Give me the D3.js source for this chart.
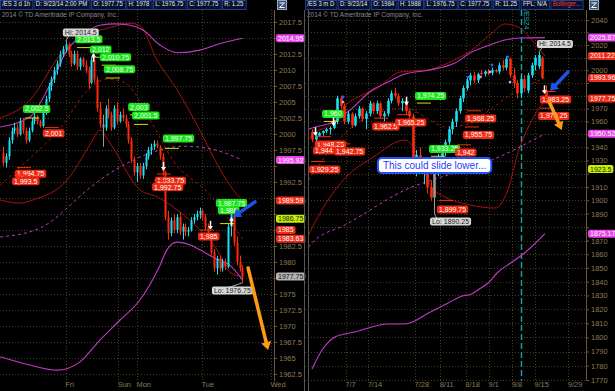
<!DOCTYPE html>
<html>
<head>
<meta charset="utf-8">
<title>/ES two panels</title>
<script src="https://cdnjs.cloudflare.com/ajax/libs/d3/7.8.5/d3.min.js"></script>
<style>
  body{margin:0;background:#000;}
  svg{display:block;font-family:"Liberation Sans",Arial,sans-serif;}
  .grid line{stroke:#4a3d22;stroke-dasharray:1,2;}
  .ax text{fill:#8f7a50;font-size:7.5px;}
  .ax path,.ax line{stroke:#6b5830;}
</style>
</head>
<body>
<div id="chart"></div>
<script>
// ---------- data : left panel (/ES 3 d 1h), candles [open, high, low, close] ----------
var leftCandles = [
  [1997,1998,1995,1995.5],[1995.5,1997,1994.75,1996.5],[1996.5,1999.5,1996,1999],[1999,2001,1998.5,2000.5],
  [2000.5,2001.75,2000,2001],[2001,2001.5,1999.5,2000],[2000,2002.5,1999.75,2002],[2002,2002.5,2000,2000.5],
  [2000.5,2001,1998.5,1999],[1999,2001,1998.75,2000.5],[2000.5,2002.5,2000.25,2002],[2002,2003.25,2001.5,2002.75],
  [2002.75,2003,2001.5,2002],[2002,2002.25,2001,2001.25],[2001.25,2004,2001,2003.5],[2003.5,2006,2003,2005.5],
  [2005.5,2008,2005,2007.5],[2007.5,2009,2006.75,2008.5],[2008.5,2010.5,2008,2010],[2010,2011.5,2009.25,2011],
  [2011,2013,2010.5,2012.5],[2012.5,2013.75,2012,2013.25],[2013.25,2014.5,2012.75,2014],[2014,2014.25,2012,2012.5],
  [2012.5,2013,2010.5,2011],[2011,2013,2010.75,2012.5],[2012.5,2013,2010,2010.5],[2010.5,2012,2010,2011.75],
  [2011.75,2012,2010.5,2010.75],[2010.75,2011.5,2009.5,2010],[2010,2010.5,2007,2008],[2008,2012,2007.75,2011.5],
  [2011.5,2012,2008,2008.5],[2008.5,2009,2003.5,2004],[2004,2005,2001,2001.5],[2001.5,2003,1998,2001],
  [2001,2004.5,2000.5,2004],[2004,2005.5,2002.5,2003],[2003,2003.5,2000.5,2001],[2001,2004.5,2000.75,2004],
  [2004,2005,2001.5,2002],[2002,2003.5,2001.75,2003],[2003,2004,2002,2002.5],[2002.5,2003,2001,2001.5],
  [2001.5,2002,1998.5,1999],[1999,1999.5,1995.5,1996],[1996,1996.5,1993.5,1994],[1994,1995.5,1992.5,1995],
  [1995,1995.5,1993,1993.5],[1993.5,1995.5,1993,1995],[1995,1997,1994.5,1996.5],[1996.5,1998,1996,1997.5],
  [1997.5,1998.5,1996.75,1998],[1998,1999,1997.5,1998.5],[1998.5,1999,1997.75,1998],[1998,1998.25,1996,1996.5],
  [1996.5,1997,1993.5,1994],[1994,1994.25,1986.5,1987],[1987,1988,1983.5,1984.5],[1984.5,1987,1984,1986.5],
  [1986.5,1987.5,1984.5,1985],[1985,1987.5,1984.5,1987],[1987,1987.75,1984.25,1984.75],[1984.75,1986,1983.5,1985.5],
  [1985.5,1986,1984,1984.75],[1984.75,1985.5,1984,1985],[1985,1987,1984.75,1986.5],[1986.5,1987.5,1986,1987],
  [1987,1988,1986.5,1987.5],[1987.5,1988.5,1986.75,1988],[1988,1988.25,1986.5,1987],[1987,1987.5,1985,1985.5],
  [1985.5,1986,1983.5,1984],[1984,1984.5,1981,1981.5],[1981.5,1982,1978.5,1979],[1979,1981,1978,1980.5],
  [1980.5,1981,1978.5,1979],[1979,1980.5,1978.5,1980],[1980,1980.5,1978.75,1979.25],[1979.25,1986,1979,1985.5],
  [1985.5,1987.75,1984,1987.5],[1987.5,1987.75,1982.5,1983],[1983,1984,1979.5,1980],[1980,1981,1978.5,1979],
  [1979,1979.5,1976.75,1977.75]
];
var leftGrayBars = [35];
var leftPriceTicks = [2017.5,2015,2012.5,2010,2007.5,2005,2002.5,2000,1997.5,1995,1992.5,1990,1987.5,1985,1982.5,1980,1977.5,1975,1972.5,1970,1967.5,1965,1962.5];
var leftDayNames = ["Fri","Sun","Mon","Tue","Wed"];
var leftDayBars = [22,40.4,47,69.8,94];
// study lines as [bar index, price]
var leftUpperBand = [[-1,2002.5],[9.5,2005.3],[20,2012.3],[27,2015],[37.5,2016.6],[44.6,2017.3],[48.1,2016.9],[54,2011.6],[61.1,2006.9],[68.1,2001.4],[74.4,1995.9],[79.6,1992],[84,1989.59]];
var leftMidBand = [[-1,1992],[6,1994.8],[20,2000.9],[30.5,2007.2],[36.5,2008.6],[42.8,2008],[51.6,2002.2],[59.6,1995.9],[72.6,1990.5],[84,1983.63]];
var leftLowerBand = [[-1,1989.7],[6,1989.2],[10.5,1989.7],[22.5,1992.8],[30.5,1998.3],[34,2000.6],[37.5,1998.6],[48.1,1991.25],[54,1990.2],[62.1,1987.8],[69.1,1985],[75.1,1981.9],[79.6,1978.4],[84,1977.7]];
var leftMagUpper = [[-1,2001.1],[9.5,2002.7],[16.5,2007.7],[22.5,2013.1],[28.8,2015.8],[34,2017],[39.3,2017.2],[44.6,2017],[49.1,2016.25],[55.1,2013.9],[61.1,2012.7],[69.1,2013.1],[76.1,2014.1],[84,2014.95]];
var leftMagLower = [[-1,1965.2],[9.5,1963.9],[18.9,1963.1],[27,1964.4],[34,1967.8],[41,1970.9],[48.1,1974.1],[55.1,1979.5],[57.5,1981.9],[61.1,1983.1],[65.6,1982.7],[69.1,1981.9],[74.4,1980.6],[79.6,1979.5],[84,1977.2]];
var leftMagDash = [[-1,1983.9],[13,1985.3],[30.5,1991.6],[34,1992.8],[45.6,1995.9],[55.1,1997.5],[63.2,1998.1],[72.6,1997.7],[84,1995.92]];
// swing labels [price, box left bar, box centre price]
var leftHighs = [[2013.5,25.3,2014.8],[2012,30.5,2013.2],[2010.75,34,2012.0],[2008.75,35.4,2010.1],[2002.5,7,2003.9],[2003,43.9,2004.2],[2001.5,45.3,2002.9],[1997.75,56.1,1999.3],[1987.75,74.7,1989.2],[1986,75.4,1988.1]];
var leftLows = [[2001,14,2000.1],[1994.75,4.2,1993.8],[1993.5,3.2,1992.6],[1993.75,53.3,1992.7],[1992.75,52.3,1991.7],[1985,68.4,1984.0]];
var leftMarkers = [[31.6,2011.9,"up"],[56.2,1995,"down"],[72.6,1985.8,"down"],[80,1986.3,"up"]];
var leftAxisBoxes = [[2014.95,"mag"],[1995.92,"mag"],[1989.59,"red"],[1986.75,"lime"],[1985,"red"],[1983.63,"red"],[1977.75,"gray"]];
var leftHeader = ["/ES 3 d 1h","D: 9/23/14 2:00 PM","O: 1977.75","H: 1978","L: 1976.75","C: 1977.75","R: 1.25"];

// ---------- data : right panel (/ES 3 m D) ----------
var rightCandles = [
  [1952,1954,1944,1946],[1946,1950,1942.75,1949],[1949,1952,1948.25,1951],[1951,1953,1949,1952.5],
  [1952.5,1955,1951,1954],[1954,1956,1950,1955],[1955,1961,1954,1960],[1960,1980,1958,1978],
  [1978,1980,1970,1972],[1972,1974,1958,1960],[1960,1968,1958,1966],[1966,1967,1955,1957],
  [1957,1966,1956,1964],[1964,1972,1962,1970],[1970,1971,1960,1962],[1962,1968,1954,1966],
  [1966,1976,1964,1974],[1974,1975,1966,1968],[1968,1976,1966,1974],[1974,1975,1962.5,1964],
  [1964,1968,1960,1966],[1966,1978,1964,1976],[1976,1984,1974,1982],[1982,1986,1978,1980],
  [1980,1982,1972,1974],[1974,1978,1968,1976],[1976,1978,1965.25,1968],[1968,1970,1962,1964],
  [1964,1966,1925,1928],[1928,1938,1918,1934],[1934,1940,1920,1922],[1922,1930,1912,1928],
  [1928,1932,1905,1910],[1910,1915,1899.75,1902],[1902,1925,1890.25,1922],[1922,1935,1918,1932],
  [1932,1942,1928,1940],[1940,1946,1933.25,1944],[1944,1956,1942,1954],[1954,1962,1950,1960],
  [1960,1970,1955.75,1968],[1968,1980,1966,1978],[1978,1988,1975,1986],[1986,1994,1984,1992],
  [1992,1998,1988,1996],[1996,1999,1990,1992],[1992,1998,1990,1997],[1998,2000,1994,1997],
  [1997,2000,1995,1999],[1999,2001,1996,1998],[1998,2002,1996,2000],[2000,2001,1998,1999],
  [1999,2006,1997,2004],[2004,2008,2000,2002],[2002,2011,2000,2009],[2009,2010,1994,1996],
  [1996,2002,1986,1990],[1990,1992,1978,1982],[1982,1996,1978,1993],[1993,1996,1983,1986],
  [1984,1998,1982,1996],[1996,2006,1994,2004],[2004,2012,2000,2010],[2003,2014.5,2001,2012],
  [2010,2011,1993,1994],[1984,1988,1976.75,1977.75]
];
var rightGrayBars = [34];
var rightPriceTicks = [2040,2030,2020,2010,2000,1990,1980,1970,1960,1950,1940,1930,1920,1910,1900,1890,1880,1870,1860,1850,1840,1830,1820,1810,1800,1790,1780,1770];
var rightDateNames = ["7/7","7/14","7/28","8/11","8/18","9/1","9/8","9/15","9/29"];
var rightDateBars = [9.4,15.6,28.6,35.6,42.7,49.2,55.6,61.9,71.2];
var rightRollBar = 58;
var rightUpperBand = [[-1,1946],[0,1949.6],[5,1957.3],[10,1974.3],[12.8,1979],[18.3,1986],[24.4,1998.6],[32.2,2000.2],[37.8,2005.7],[44.4,2016],[50,2029.6],[53.6,2036.8],[57.2,2034.4],[61.1,2024],[64.7,2011.22]];
var rightMidBand = [[-1,1915],[0,1919],[5,1938.1],[11.9,1957.3],[18.9,1967.3],[25.8,1970.4],[32.8,1961.1],[36.9,1955.7],[42.5,1957.3],[49.4,1968.9],[55,1980.5],[59.2,1986.8],[64.7,1993.96]];
var rightLowerBand = [[-1,1874],[0,1879.4],[3.6,1896.5],[9.2,1916.8],[16.7,1932],[25.8,1945.7],[30,1930.4],[33.3,1909.2],[36.9,1902.5],[43.9,1896.5],[50.8,1894.2],[54.4,1907.7],[57.2,1935.8],[61.1,1961.1],[64.7,1976.6]];
var rightMagUpper = [[-1,1954],[0,1955],[5.8,1959.6],[10.6,1968.9],[16.7,1984.4],[21.1,1990.7],[25.8,1997],[32.8,2000.2],[39.7,2005.7],[44.4,2014.4],[49.4,2020],[53.6,2024],[57.8,2025.6],[64.7,2025.87]];
var rightMagLower = [[0,1777.7],[2.8,1791.1],[6.4,1800.3],[11.9,1803.8],[21.1,1809.5],[25.8,1809.5],[28.6,1811.7],[31.4,1816],[37.8,1824.6],[41.7,1829.6],[44.4,1831.1],[46.1,1834],[48.9,1839],[51.7,1847],[55.6,1854.3],[58.3,1859.4],[60,1863.1],[64.7,1875.17]];
var rightMagDash = [[-1,1865],[0,1868.3],[9.2,1881.6],[27.8,1910],[33.3,1915.2],[50,1930.4],[64.7,1950.52]];
var rightHighs = [[1960,2.8,1965.8],[1974.25,28.6,1979.8],[1933.25,32.5,1938.8]];
var rightLows = [[1948.25,0.8,1942.3],[1944,0.3,1937.7],[1942.75,6.1,1936.9],[1929.25,-0.8,1923.2],[1962.5,16.7,1956.1],[1965.25,23.1,1959.2],
                 [1968.25,42.5,1962.3],[1955.75,41.9,1949.6],[1942,39.7,1936.1],[1899.75,34.7,1893.1],[1983.25,63.3,1977.0],[1970.25,62.8,1964.2]];
var rightMarkers = [[0.8,1952.5,"down"],[5.8,1960,"down"],[26,1976,"down"],[64.5,1985,"down"]];
var rightDots = [[8.6,1979,"b"],[8.6,1975,"l"],[43.3,1994.6,"b"],[46.7,1994.6,"l"],[50,2004.1,"b"],[49.4,1998.6,"l"],[54.4,2010.5,"b"],[55,1990.7,"l"]];
var rightAxisBoxes = [[2025.87,"mag"],[2011.22,"red"],[1993.96,"red"],[1977.75,"red"],[1950.52,"mag"],[1923.5,"lime"],[1875.17,"mag"]];
var rightHeader = ["/ES 3 m D","D: 9/23/14","O: 1984","H: 1988","L: 1976.75","C: 1977.75","R: 11.25","FPL: N/A","Bollinger..."];

var UP = "#17e0f2", DOWN = "#ff2a0a", BAND = "#a8120c", MAG = "#c23ac8";
var boxFill = {mag:"#e846ea", red:"#ec2a18", lime:"#c6f000", gray:"#b4b4b4"};
var boxText = {mag:"#fff", red:"#fff", lime:"#222", gray:"#111"};

var svg = d3.select("#chart").append("svg").attr("width",615).attr("height",391).style("background","#000");

function tag(g, txt, x0, yc, fill, color, size){
  var t = g.append("text").attr("x",x0+2).attr("y",yc).attr("dy","0.35em")
    .attr("fill",color).style("font-size",(size||7)+"px").text(txt);
  var w = t.node().getComputedTextLength();
  g.insert("rect",function(){ return t.node(); }).attr("x",x0).attr("y",yc-4).attr("width",w+4).attr("height",8)
    .attr("rx",2).attr("fill",fill);
  return w+4;
}
function fmt(v){ return d3.format(",")(v); }

function drawPanel(p){
  var g = svg.append("g");
  var x = d3.scaleLinear().domain(p.xDom).range(p.xRng);
  var y = p.y;
  svg.append("clipPath").attr("id","clip"+p.id).append("rect")
    .attr("x",p.left).attr("y",p.top).attr("width",p.right-p.left).attr("height",p.bottom-p.top);

  // grid
  var grid = g.append("g").attr("class","grid");
  grid.selectAll(".h").data(p.ticks).join("line")
    .attr("x1",p.left).attr("x2",p.right).attr("y1",d=>Math.round(y(d))+0.5).attr("y2",d=>Math.round(y(d))+0.5);
  grid.selectAll(".v").data(p.dateBars).join("line")
    .attr("x1",d=>Math.round(x(d))+0.5).attr("x2",d=>Math.round(x(d))+0.5).attr("y1",p.top).attr("y2",p.bottom);

  // price axis (labels hidden under the value boxes are left out)
  var boxYs = p.axisBoxes.map(d=>y(d[0]));
  var ya = d3.axisRight(y).tickValues(p.ticks).tickSize(3).tickPadding(2)
    .tickFormat(d=> boxYs.some(b=>Math.abs(b-y(d))<7) ? "" : d3.format("~f")(d));
  g.append("g").attr("class","ax").attr("transform","translate("+p.right+",0)").call(ya)
    .call(a=>a.select(".domain").attr("d","M0.5,"+p.top+"V"+p.bottom));
  // date axis
  var xa = d3.axisBottom(x).tickValues(p.dateBars).tickSize(0).tickFormat((d,i)=>p.dateNames[i]);
  g.append("g").attr("class","ax").attr("transform","translate(0,"+p.bottom+")").call(xa)
    .call(a=>a.select(".domain").remove())
    .call(a=>a.selectAll("text").attr("text-anchor","start").attr("dx",-1).attr("y",1));

  var plot = g.append("g").attr("clip-path","url(#clip"+p.id+")");
  if (p.roll !== undefined) {
    plot.append("line").attr("x1",Math.round(x(p.roll))+0.5).attr("x2",Math.round(x(p.roll))+0.5)
      .attr("y1",p.top).attr("y2",p.bottom).attr("stroke","#1a9a9a").attr("stroke-width",1.5).attr("stroke-dasharray","6,3");
    plot.append("text").attr("transform","translate("+(x(p.roll)+3)+",10) rotate(90)")
      .attr("fill","#1fb0b0").style("font-size","7px").text("/ESZ4");
  }

  var line = d3.line().x(d=>x(d[0])).y(d=>y(d[1])).curve(d3.curveMonotoneX);
  function study(data, color, dash, w){
    plot.append("path").datum(data).attr("d",line).attr("fill","none").attr("stroke",color)
      .attr("stroke-width",w||1).attr("stroke-dasharray",dash||null);
  }
  study(p.lowerBand, BAND); study(p.upperBand, BAND); study(p.midBand, BAND, "3,3");
  study(p.magDash, MAG, "3,3"); study(p.magUpper, MAG, null, 1.1); study(p.magLower, MAG, null, 1.1);

  // candles
  var bw = p.barW;
  var col = (d,i)=> p.gray.indexOf(i)>=0 ? "#9a9a9a" : (d[3]>=d[0]?UP:DOWN);
  plot.selectAll(".wick").data(p.candles).join("line")
    .attr("x1",(d,i)=>Math.round(x(i))+0.5).attr("x2",(d,i)=>Math.round(x(i))+0.5)
    .attr("y1",d=>y(d[1])).attr("y2",d=>y(d[2])).attr("stroke",col);
  plot.selectAll(".body").data(p.candles).join("rect")
    .attr("x",(d,i)=>Math.round(x(i))+0.5-bw/2).attr("width",bw)
    .attr("y",d=>y(Math.max(d[0],d[3])))
    .attr("height",d=>Math.max(1,Math.abs(y(d[0])-y(d[3])))).attr("fill",col);

  // dots
  (p.dots||[]).forEach(function(d){
    plot.append("circle").attr("cx",x(d[0])).attr("cy",y(d[1])).attr("r",1.4)
      .attr("fill",d[2]=="b"?"#2a5cff":"#b9a8f0");
  });

  // swing labels
  var lab = g.append("g");
  p.highs.forEach(function(d){
    lab.append("line").attr("x1",x(d[1])+2).attr("x2",x(d[1])+16).attr("y1",y(d[0])).attr("y2",y(d[0]))
      .attr("stroke","#d8e000").attr("stroke-width",1);
    tag(lab, fmt(d[0]), x(d[1]), y(d[2]), "#19e619", "#fff");
  });
  p.lows.forEach(function(d){
    lab.append("line").attr("x1",x(d[1])+2).attr("x2",x(d[1])+16).attr("y1",y(d[0])).attr("y2",y(d[0]))
      .attr("stroke","#ff2a0a").attr("stroke-width",1);
    tag(lab, fmt(d[0]), x(d[1]), y(d[2]), "#f02a12", "#fff");
  });

  // hi / lo callouts
  p.hilo.forEach(function(d){
    var bx = x(d[1]), by = y(d[2]);
    lab.append("line").attr("x1",x(d[3])).attr("y1",y(d[0])).attr("x2",bx+8).attr("y2",by)
      .attr("stroke","#ccc").attr("stroke-width",0.8);
    tag(lab, d[4]+": "+d3.format("~f")(d[0]), bx, by, "#d6d6d6", "#222");
  });

  // white arrows
  p.markers.forEach(function(d){
    var cx = Math.round(x(d[0]))+0.5, cy = y(d[1]), s = d[2]=="up" ? -1 : 1;
    lab.append("line").attr("x1",cx).attr("x2",cx).attr("y1",cy-4*s).attr("y2",cy+4*s).attr("stroke","#fff").attr("stroke-width",1.5);
    lab.append("path").attr("d","M"+(cx-2.5)+","+(cy+1*s)+"L"+cx+","+(cy+4.5*s)+"L"+(cx+2.5)+","+(cy+1*s)+"Z").attr("fill","#fff");
  });

  // price-axis boxes
  var boxes = g.append("g");
  p.axisBoxes.forEach(function(d){
    tag(boxes, d3.format("~f")(d[0]), p.right+2, y(d[0]), boxFill[d[1]], boxText[d[1]], 7);
  });

  // header strip, squeezed into the width the reference uses
  var hd = g.append("g");
  var hx = 0;
  p.header.forEach(function(t,i){
    var last = (i==p.header.length-1 && p.id=="R");
    var tx = hd.append("text").attr("x",hx+2.5).attr("y",6.5).attr("fill",last?"#ff3a2a":"#e8e8e8").style("font-size","6.8px").text(t);
    var w = tx.node().getComputedTextLength()+5;
    hd.insert("rect",function(){ return tx.node(); }).attr("x",hx+0.5).attr("y",0.5).attr("width",w).attr("height",9)
      .attr("fill","#07102c").attr("stroke","#26408c");
    hx += w+1.5;
  });
  hd.attr("transform","translate("+p.left+",0) scale("+Math.min(1,p.headW/hx)+",1)");
  var ic = g.append("g");
  ic.append("rect").attr("x",p.right+3.5).attr("y",0.5).attr("width",9).attr("height",9).attr("fill","#3a5680").attr("stroke","#9ab");
  ic.append("path").attr("d","M"+(p.right+5.5)+",3H"+(p.right+10.5)+"L"+(p.right+5.5)+",7.5H"+(p.right+10.5)).attr("stroke","#fff").attr("fill","none");
  ic.append("text").attr("x",p.left+2).attr("y",17).attr("fill","#8a8a8a").style("font-size","6.5px")
    .text("2014 \u00A9 TD Ameritrade IP Company, Inc.");

  return {x:x, y:y, g:lab};
}

// ---------- left panel ----------
var yL = d3.scaleLinear().domain([1962.5,2017.5]).range([374,22]);
var L = drawPanel({id:"L", left:0, right:274, top:10, bottom:381, xDom:[0,94], xRng:[3,270.9], y:yL, headW:247,
  ticks:leftPriceTicks, dateBars:leftDayBars, dateNames:leftDayNames, candles:leftCandles, gray:leftGrayBars, barW:2,
  upperBand:leftUpperBand, midBand:leftMidBand, lowerBand:leftLowerBand, magUpper:leftMagUpper, magLower:leftMagLower, magDash:leftMagDash,
  highs:leftHighs, lows:leftLows, markers:leftMarkers, axisBoxes:leftAxisBoxes, header:leftHeader,
  hilo:[[2014.5,21,2015.86,22,"Hi"],[1976.75,73.3,1975.55,84,"Lo"]]});

// ---------- right panel ----------
var yR = d3.scaleLog().domain([1770,2040]).range([380,20]);
var R = drawPanel({id:"R", left:305, right:586, top:10, bottom:381, xDom:[0,65], xRng:[312,546], y:yR, headW:279,
  ticks:rightPriceTicks, dateBars:rightDateBars, dateNames:rightDateNames, candles:rightCandles, gray:rightGrayBars, barW:2.6,
  upperBand:rightUpperBand, midBand:rightMidBand, lowerBand:rightLowerBand, magUpper:rightMagUpper, magLower:rightMagLower, magDash:rightMagDash,
  highs:rightHighs, lows:rightLows, markers:rightMarkers, dots:rightDots, axisBoxes:rightAxisBoxes, header:rightHeader, roll:rightRollBar,
  hilo:[[2014.5,62.5,2020.8,63,"Hi"],[1890.25,32.8,1884.2,34,"Lo"]]});

// drawn arrows [from bar, from price, to bar, to price]
function bigArrow(P, a, color){
  var x1=P.x(a[0]), y1=P.y(a[1]), x2=P.x(a[2]), y2=P.y(a[3]);
  var ang = Math.atan2(y2-y1,x2-x1), hl=8, hw=5;
  var bx = x2-hl*Math.cos(ang), by = y2-hl*Math.sin(ang);
  P.g.append("line").attr("x1",x1).attr("y1",y1).attr("x2",bx).attr("y2",by)
    .attr("stroke",color).attr("stroke-width",3.5).attr("stroke-linecap","round");
  P.g.append("path").attr("fill",color).attr("d","M"+x2+","+y2+"L"+(bx+hw*Math.sin(ang))+","+(by-hw*Math.cos(ang))+"L"+(bx-hw*Math.sin(ang))+","+(by+hw*Math.cos(ang))+"Z");
}
bigArrow(L, [88.4,1989.4,80.7,1987.0], "#1f52e8");
bigArrow(L, [86,1979.06,93,1966.25], "#ff9a14");
bigArrow(R, [71.1,1998.6,66.1,1983.6], "#1f52e8");
bigArrow(R, [65.8,1975.8,69.4,1953.4], "#ff9a14");

// note bubble
var note = R.g.append("g");
var nt = note.append("text").attr("x",R.x(18.3)+5).attr("y",R.y(1926.3)).attr("dy","0.35em")
  .attr("fill","#1f3cff").style("font-size","10px").text("This could slide lower...");
var nw = nt.node().getComputedTextLength();
note.insert("rect","text").attr("x",R.x(18.3)).attr("y",R.y(1926.3)-7.5).attr("width",nw+10).attr("height",15)
  .attr("rx",4).attr("fill","#fff").attr("stroke","#1f4fff").attr("stroke-width",2);

// panel separators
svg.append("line").attr("x1",304.5).attr("x2",304.5).attr("y1",10).attr("y2",391).attr("stroke","#555");
svg.append("line").attr("x1",308.5).attr("x2",308.5).attr("y1",10).attr("y2",391).attr("stroke","#555");
</script>
</body>
</html>
